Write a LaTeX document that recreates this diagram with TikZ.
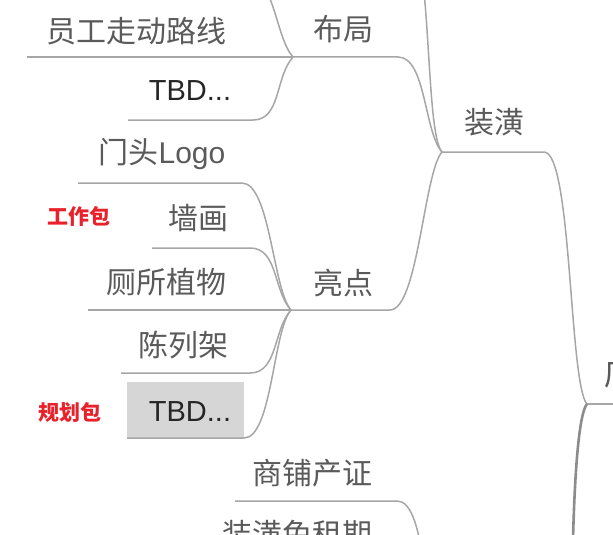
\documentclass[tikz,border=0pt]{standalone}
\usepackage{fontspec}
\setmainfont{Liberation Sans}
\newfontfamily\cjk{Noto Sans CJK SC}
\definecolor{twiggray}{HTML}{A6A6A6}
\definecolor{trunkgray}{HTML}{8C8C8C}
\definecolor{leafgray}{HTML}{5A5A5A}
\definecolor{tbdgray}{HTML}{262626}
\definecolor{boxgray}{HTML}{D6D6D6}
\definecolor{tagred}{HTML}{E8212B}
\tikzset{
  twig/.style={draw=twiggray,line width=1.5pt},
  trunk/.style={draw=trunkgray,line width=2.6pt},
  leaf/.style={inner sep=0pt,text=leafgray,font=\cjk\fontsize{30}{32}\selectfont},
  tbd/.style={inner sep=0pt,text=tbdgray,font=\fontsize{29}{32}\selectfont},
  tag/.style={inner sep=0pt,text=tagred,font=\cjk\bfseries\fontsize{21}{24}\selectfont}
}
\begin{document}
\begin{tikzpicture}[x=1pt,y=-1pt]
    \useasboundingbox (0,0) rectangle (613,535);
    \clip (0,0) rectangle (613,535);
    % junctions
    \coordinate (jbuju) at (293,57);
    \coordinate (jzhuang) at (442,152);
    \coordinate (jliang) at (291,310);
    \coordinate (jroot) at (587,404);
    \coordinate (jchan) at (440,620);
    % branch ends outside the picture
    \coordinate (topbuju) at (245,-25);
    \coordinate (topzhuang) at (405,-70);
    \coordinate (rootr) at (650,404);
    \coordinate (trunkend) at (572,620);
    \fill[boxgray] (127,382) rectangle (244,438);
    \foreach \n/\xl/\xr/\y/\j/\s in {
        yuangong/27/250/57/jbuju/0,
        tbdbuju/128/253/120/jbuju/1,
        buju/293/398/57/jzhuang/-1,
        liangdian/291/390/310/jzhuang/1,
        mentou/78/242/183/jliang/-1,
        qianghua/152/250/248/jliang/-1,
        cesuo/88/250/310/jliang/0,
        chenlie/121/250/373/jliang/1,
        tbdliang/127/244/438/jliang/1,
        zhuanghuang/442/544/152/jroot/-1,
        shangpu/235/397/501/jchan/-1}{
        \coordinate (\n l) at (\xl,\y);
        \coordinate (\n r) at (\xr,\y);
        \draw[twig] (\n l) -- (\n r) .. controls +(28,0) and +(-18,{20*(\s)}) .. (\j);
    }
    \draw[twig] (topbuju) .. controls +(30,0) and +(-18,-20) .. (jbuju);
    \draw[twig] (topzhuang) .. controls +(28,0) and +(-18,-20) .. (jzhuang);
    \draw[twig] (jroot) -- (rootr);
    \draw[trunk] (jroot) .. controls +(-12,14) and +(0,-80) .. (trunkend);
    \foreach \n/\x/\y/\t in {
        yuangong/136/31/员工走动路线,
        buju/343/29/布局,
        zhuanghuang/494/122/装潢,
        mentou/162/154/门头{\rmfamily Logo},
        qianghua/198/218/墙画,
        cesuo/166/282/厕所植物,
        liangdian/343/283/亮点,
        chenlie/183/345/陈列架,
        shangpu/312/473/商铺产证,
        mianzu/297/534/装潢免租期}{
        \node[leaf] (\n t) at (\x,\y) {\t};
    }
    \node[tbd] (tbdbujut) at (190,91) {TBD...};
    \node[tbd] (tbdliangt) at (190,412) {TBD...};
    \node[tag] (gongzuo) at (79,216) {工作包};
    \node[tag] (guihua) at (70,412) {规划包};
    \node[leaf,anchor=west,font=\cjk\fontsize{32}{34}\selectfont] (root) at (604,373) {店};
\end{tikzpicture}
\end{document}
